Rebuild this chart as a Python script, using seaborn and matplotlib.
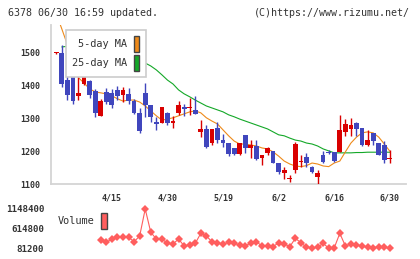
import numpy as np
import seaborn as sns
import matplotlib.pyplot as plt
from matplotlib.patches import Patch

# daily candles, index 0 .. 60
opens = [1500, 1499, 1417, 1438, 1367, 1405, 1413, 1384, 1308, 1382,
         1379, 1387, 1370, 1375, 1354, 1318, 1379, 1341, 1290, 1286,
         1316, 1285, 1318, 1334, 1333, 1326, 1260, 1268, 1225, 1270,
         1234, 1224, 1211, 1191, 1250, 1209, 1216, 1178, 1196, 1202,
         1165, 1133, 1116, 1143, 1169, 1181, 1151, 1122, 1189, 1199,
         1199, 1199, 1260, 1268, 1285, 1270, 1219, 1255, 1226, 1219,
         1178]
closes = [1500, 1404, 1370, 1354, 1379, 1441, 1370, 1318, 1353, 1349,
          1340, 1367, 1387, 1353, 1318, 1263, 1341, 1305, 1282, 1334,
          1286, 1293, 1341, 1329, 1333, 1314, 1268, 1214, 1268, 1234,
          1226, 1191, 1191, 1224, 1209, 1219, 1175, 1189, 1209, 1163,
          1138, 1143, 1116, 1222, 1169, 1164, 1138, 1135, 1168, 1194,
          1170, 1265, 1283, 1280, 1268, 1219, 1234, 1232, 1189, 1173,
          1178]
highs = [1502, 1524, 1433, 1438, 1430, 1456, 1417, 1389, 1358, 1392,
         1389, 1400, 1395, 1392, 1358, 1331, 1407, 1341, 1303, 1334,
         1319, 1306, 1353, 1344, 1362, 1367, 1295, 1280, 1268, 1288,
         1253, 1224, 1211, 1224, 1250, 1234, 1234, 1189, 1212, 1202,
         1165, 1153, 1127, 1229, 1189, 1194, 1155, 1143, 1201, 1205,
         1199, 1311, 1298, 1300, 1288, 1270, 1265, 1255, 1226, 1231,
         1204]
lows = [1498, 1395, 1356, 1344, 1356, 1402, 1362, 1303, 1306, 1344,
        1333, 1356, 1350, 1344, 1313, 1255, 1304, 1289, 1265, 1285,
        1281, 1272, 1311, 1306, 1311, 1314, 1244, 1211, 1220, 1225,
        1212, 1186, 1189, 1188, 1195, 1178, 1173, 1159, 1188, 1163,
        1130, 1115, 1107, 1133, 1153, 1153, 1135, 1100, 1165, 1192,
        1168, 1199, 1245, 1247, 1247, 1216, 1216, 1219, 1189, 1163,
        1163]

ma5 = [1620, 1573, 1525, 1475, 1424, 1408, 1390, 1381, 1378, 1375,
       1369, 1360, 1353, 1356, 1356, 1350, 1338, 1323, 1308, 1295,
       1298, 1302, 1308, 1314, 1320, 1323, 1317, 1302, 1292, 1283,
       1265, 1247, 1231, 1222, 1222, 1219, 1216, 1210, 1207, 1198,
       1185, 1170, 1161, 1155, 1153, 1156, 1164, 1161, 1155, 1153,
       1164, 1170, 1198, 1225, 1243, 1256, 1259, 1256, 1243, 1222,
       1200]
ma25 = [np.nan, 1518, 1520, 1521, 1520, 1518, 1516, 1512, 1508, 1504,
        1500, 1495, 1490, 1485, 1480, 1475, 1469, 1460, 1448, 1433,
        1417, 1405, 1387, 1375, 1366, 1356, 1347, 1338, 1332, 1326,
        1320, 1311, 1305, 1298, 1292, 1286, 1280, 1274, 1268, 1259,
        1250, 1247, 1240, 1234, 1231, 1225, 1222, 1216, 1207, 1201,
        1195, 1195, 1195, 1195, 1196, 1196, 1197, 1197, 1197, 1197,
        1197]

# volume starts at day 8
vol_start = 8
volume = [306000, 244000, 334000, 380000, 380000, 380000, 260000, 415000,
          1148400, 516000, 334000, 334000, 217000, 198000, 334000, 144000,
          171000, 217000, 488000, 415000, 260000, 234000, 190000, 244000,
          217000, 171000, 152000, 217000, 260000, 144000, 144000, 125000,
          234000, 198000, 125000, 352000, 234000, 108000, 95000, 108000,
          217000, 85000, 95000, 488000, 144000, 198000, 171000, 144000,
          108000, 95000, 125000, 108000, 81200]

date_labels = ['4/15', '4/30', '5/19', '6/2', '6/16', '6/30']
date_pos = [10, 20, 30, 40, 50, 60]

sns.set_style('white')
plt.rcParams['font.family'] = ['DejaVu Sans Mono']

RED = '#d90000'
BLUE = '#4046bd'
ORANGE = '#ee8a1a'
GREEN = '#14a828'
VOLC = '#ff5e5e'
GRID = '#d4d4d4'
TXT = '#333333'

fig = plt.figure(figsize=(4.2, 2.59), dpi=100)
ax = fig.add_axes([50.7 / 420, 1 - 184 / 259, 355 / 420, 159 / 259])

x = np.arange(len(opens))
o = np.array(opens)
c = np.array(closes)
cols = [RED if cc >= oo else BLUE for oo, cc in zip(o, c)]

sns.lineplot(x=x, y=ma25, color=GREEN, lw=0.8, ax=ax, zorder=2)
sns.lineplot(x=x, y=ma5, color=ORANGE, lw=0.8, ax=ax, zorder=2)

ax.vlines(x, lows, highs, colors=cols, lw=1.0, zorder=3)
flat = np.abs(c - o) < 3
ax.bar(x, np.maximum(np.abs(c - o), 3), bottom=np.minimum(o, c) - flat * 1.5,
       width=0.85, color=cols, zorder=4, linewidth=0)

xl = (-1.0, 62.85)
ax.set_xlim(xl)
ax.set_ylim(1100, 1585)
ax.set_xticks(np.linspace(xl[0], xl[1], 12))
ax.set_xticklabels([])
ax.set_xticks(date_pos, minor=True)
ax.set_xticklabels(date_labels, minor=True)
ax.set_yticks([1100, 1200, 1300, 1400, 1500])
ax.tick_params(axis='x', which='major', direction='out', length=4, color=GRID, width=1.1)
ax.tick_params(axis='x', which='minor', length=0, pad=7, labelsize=6, labelcolor=TXT)
ax.tick_params(axis='y', direction='out', length=4.3, color=GRID, width=1.1, pad=3.5,
               labelsize=6, labelcolor=TXT)
for lab in ax.get_xticklabels(minor=True) + ax.get_yticklabels():
    lab.set_fontweight('bold')
for s in ['top', 'right']:
    ax.spines[s].set_visible(False)
for s in ['left', 'bottom']:
    ax.spines[s].set_color(GRID)
    ax.spines[s].set_linewidth(1.3)

handles = [Patch(facecolor=ORANGE, edgecolor='#444444', label='5-day MA'),
           Patch(facecolor=GREEN, edgecolor='#444444', label='25-day MA')]
leg = ax.legend(handles=handles, loc='upper left', bbox_to_anchor=(65.7 / 420, 1 - 30 / 259),
                bbox_transform=fig.transFigure, markerfirst=False, frameon=True, fancybox=False,
                edgecolor='#cccccc', framealpha=1, fontsize=7.4, handlelength=0.56,
                handleheight=2.0, borderaxespad=0, borderpad=0.6, labelspacing=0.3,
                handletextpad=0.65)
leg.get_frame().set_linewidth(1.2)
for t in leg.get_texts():
    t.set_color(TXT)

# volume panel
vax = fig.add_axes([50.7 / 420, 1 - 248.3 / 259, 355 / 420, 39.3 / 259])
vx = np.arange(vol_start, vol_start + len(volume))
sns.lineplot(x=vx, y=volume, color=VOLC, lw=0.8, marker='D', markersize=3.7,
             markeredgewidth=0, ax=vax, clip_on=False)
vax.set_xlim(xl)
vax.set_ylim(81200, 1148400)
vax.set_xticks([])
vax.set_yticks([81200, 614800, 1148400])
vax.set_yticklabels(['81200', '614800', '1148400'])
vax.tick_params(axis='y', length=0, pad=4.6, labelsize=6.6, labelcolor=TXT)
for lab in vax.get_yticklabels():
    lab.set_fontweight('bold')
for s in vax.spines.values():
    s.set_visible(False)
vax.patch.set_alpha(0)

vleg = vax.legend(handles=[Patch(facecolor=VOLC, edgecolor='#444444', label='Volume')],
                  loc='center left', bbox_to_anchor=(58 / 420, 1 - 221 / 259),
                  bbox_transform=fig.transFigure, markerfirst=False, frameon=False,
                  fontsize=7.4, handlelength=0.56, handleheight=2.0, borderaxespad=0,
                  borderpad=0, handletextpad=0.65)
for t in vleg.get_texts():
    t.set_color(TXT)

fig.text(8 / 420, 1 - 12.5 / 259, '6378 06/30 16:59 updated.', fontsize=7.2, va='center',
         color=TXT)
fig.text(410 / 420, 1 - 12.5 / 259, '(C)https://www.rizumu.net/', fontsize=7.2, va='center',
         ha='right', color=TXT)

fig.savefig('out.png', dpi=100)
